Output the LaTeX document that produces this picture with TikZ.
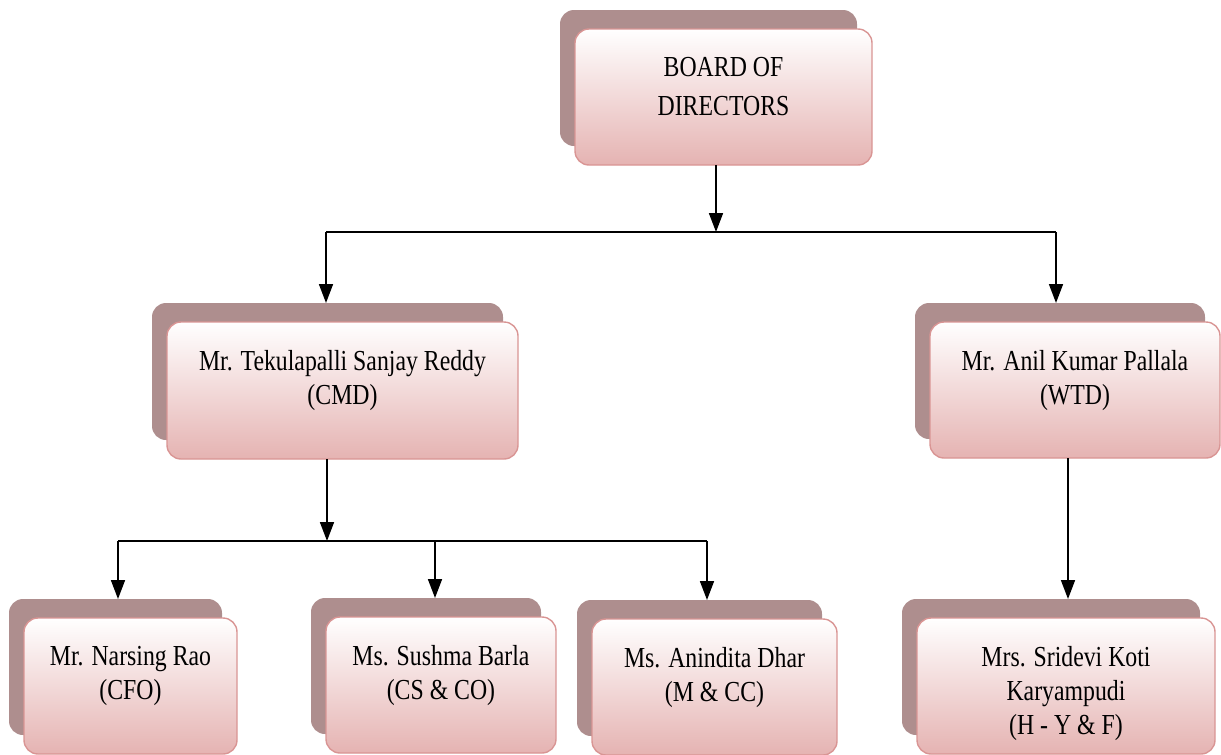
\documentclass[tikz,border=0pt]{standalone}
\usepackage{fontspec}
\newfontfamily\tf[FakeStretch=0.82]{Liberation Serif}
\usetikzlibrary{arrows.meta}
\definecolor{shad}{RGB}{174,142,142}
\definecolor{bord}{RGB}{217,149,148}
\definecolor{pinkb}{RGB}{229,179,178}
\newcommand\orgbox[6]{%
  \node[shadowbox, minimum width=#4pt, minimum height=#5pt] (#1-s) at (#2-15,#3-19) {};
  \node[front, minimum width=#4pt, minimum height=#5pt] (#1) at (#2,#3) {};
  \node[lbl] (#1-t) at ([yshift=-28pt]#1.north) {#6};}
\begin{document}
\begin{tikzpicture}[x=1pt,y=-1pt,
  front/.style={draw=bord, line width=1.4pt, rounded corners=14pt, top color=white, bottom color=pinkb, inner sep=0pt, outer sep=0pt},
  shadowbox/.style={fill=shad, rounded corners=14pt, inner sep=0pt, outer sep=0pt},
  lbl/.style={font=\tf\fontsize{29}{34}\selectfont, align=center, inner sep=0pt, anchor=north, text=black},
  conn/.style={line width=1.7pt, draw=black},
  arr/.style={conn, -{Triangle[length=19pt,width=14pt]}}]
\useasboundingbox (0,0) rectangle (1221,755);
% boxes
\orgbox{bod}{723.5}{97}{297}{136}{BOARD OF\\[5pt]DIRECTORS}
\orgbox{cmd}{342.5}{390.5}{351}{137}{Mr. Tekulapalli Sanjay Reddy\\(CMD)}
\orgbox{wtd}{1075}{390}{290}{136}{Mr. Anil Kumar Pallala\\(WTD)}
\orgbox{cfo}{130.5}{686}{213}{136}{Mr. Narsing Rao\\(CFO)}
\orgbox{cs}{441}{685}{230}{136}{Ms. Sushma Barla\\(CS \& CO)}
\orgbox{mcc}{714.5}{687}{245}{136}{Ms. Anindita Dhar\\(M \& CC)}
\orgbox{hyf}{1066}{686}{298}{136}{Mrs. Sridevi Koti\\Karyampudi\\(H - Y \& F)}
% junction coordinates
\coordinate (j1) at (716,232);
\coordinate (b1) at (326,232);
\coordinate (b2) at (1056,232);
\coordinate (j2) at (327,541);
\coordinate (c1) at (118,541);
\coordinate (c2) at (435,541);
\coordinate (c3) at (707,541);
\coordinate (w1) at (1068,0);
% connectors
\draw[arr] (bod.south -| j1) -- (j1);
\draw[conn] (b1) -- (b2);
\draw[arr] (b1) -- (b1 |- cmd-s.north);
\draw[arr] (b2) -- (b2 |- wtd-s.north);
\draw[arr] (cmd.south -| j2) -- (j2);
\draw[conn] (c1) -- (c3);
\draw[arr] (c1) -- (c1 |- cfo-s.north);
\draw[arr] (c2) -- (c2 |- cs-s.north);
\draw[arr] (c3) -- (c3 |- mcc-s.north);
\draw[arr] (wtd.south -| w1) -- (w1 |- hyf-s.north);
\end{tikzpicture}
\end{document}
